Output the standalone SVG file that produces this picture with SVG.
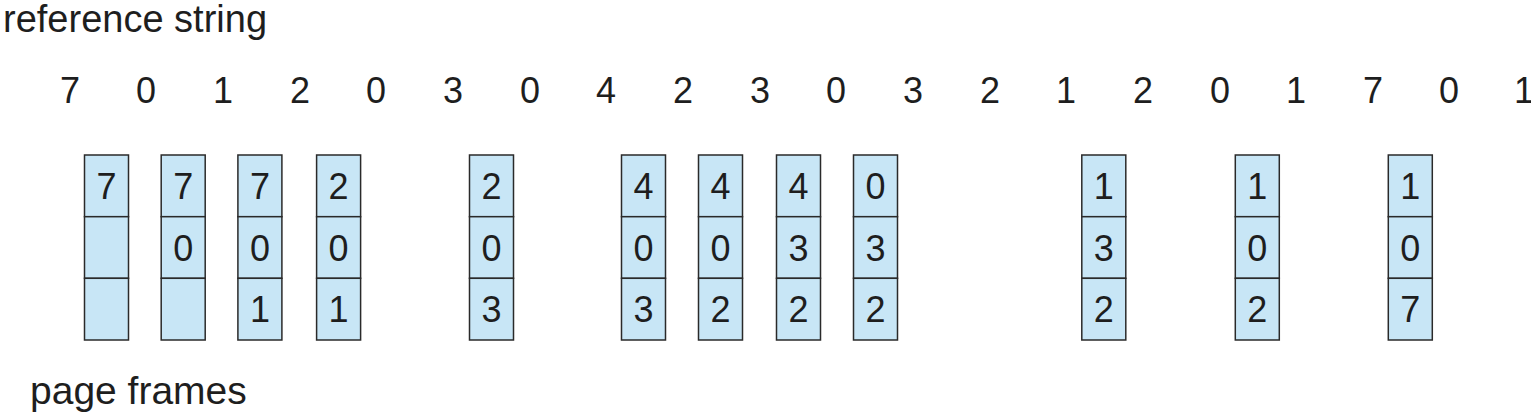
<svg xmlns="http://www.w3.org/2000/svg" width="1531" height="417" viewBox="0 0 1531 417">
<style>
text{font-family:"Liberation Sans",Arial,sans-serif;fill:#1e1e1e}
.lbl{font-size:38px}
.ref{font-size:36px;text-anchor:middle}
.d{font-size:36px;text-anchor:middle}
.cell{fill:#c8e6f6;stroke:#2a2a2a;stroke-width:1.5}
</style>
<rect width="1531" height="417" fill="#ffffff"/>
<text class="lbl" x="3" y="32">reference string</text>
<g id="refstring">
<text class="ref" x="70" y="103">7</text>
<text class="ref" x="146" y="103">0</text>
<text class="ref" x="223" y="103">1</text>
<text class="ref" x="300" y="103">2</text>
<text class="ref" x="376" y="103">0</text>
<text class="ref" x="453" y="103">3</text>
<text class="ref" x="530" y="103">0</text>
<text class="ref" x="606" y="103">4</text>
<text class="ref" x="683" y="103">2</text>
<text class="ref" x="760" y="103">3</text>
<text class="ref" x="836" y="103">0</text>
<text class="ref" x="913" y="103">3</text>
<text class="ref" x="990" y="103">2</text>
<text class="ref" x="1066" y="103">1</text>
<text class="ref" x="1143" y="103">2</text>
<text class="ref" x="1220" y="103">0</text>
<text class="ref" x="1296" y="103">1</text>
<text class="ref" x="1373" y="103">7</text>
<text class="ref" x="1449" y="103">0</text>
<text class="ref" x="1524" y="103">1</text>
</g>
<defs>
<g id="frame">
<rect class="cell" x="0" y="155" width="44" height="61.7"/>
<rect class="cell" x="0" y="216.7" width="44" height="61.6"/>
<rect class="cell" x="0" y="278.3" width="44" height="61.7"/>
</g>
</defs>
<g id="f1" transform="translate(84.5,0)"><use href="#frame"/><text class="d" x="22" y="199">7</text></g>
<g id="f2" transform="translate(161.2,0)"><use href="#frame"/><text class="d" x="22" y="199">7</text><text class="d" x="22" y="260.5">0</text></g>
<g id="f3" transform="translate(237.9,0)"><use href="#frame"/><text class="d" x="22" y="199">7</text><text class="d" x="22" y="260.5">0</text><text class="d" x="22" y="322">1</text></g>
<g id="f4" transform="translate(316.6,0)"><use href="#frame"/><text class="d" x="22" y="199">2</text><text class="d" x="22" y="260.5">0</text><text class="d" x="22" y="322">1</text></g>
<g id="f5" transform="translate(469.5,0)"><use href="#frame"/><text class="d" x="22" y="199">2</text><text class="d" x="22" y="260.5">0</text><text class="d" x="22" y="322">3</text></g>
<g id="f6" transform="translate(621.5,0)"><use href="#frame"/><text class="d" x="22" y="199">4</text><text class="d" x="22" y="260.5">0</text><text class="d" x="22" y="322">3</text></g>
<g id="f7" transform="translate(698.5,0)"><use href="#frame"/><text class="d" x="22" y="199">4</text><text class="d" x="22" y="260.5">0</text><text class="d" x="22" y="322">2</text></g>
<g id="f8" transform="translate(776.5,0)"><use href="#frame"/><text class="d" x="22" y="199">4</text><text class="d" x="22" y="260.5">3</text><text class="d" x="22" y="322">2</text></g>
<g id="f9" transform="translate(853.5,0)"><use href="#frame"/><text class="d" x="22" y="199">0</text><text class="d" x="22" y="260.5">3</text><text class="d" x="22" y="322">2</text></g>
<g id="f10" transform="translate(1081.8,0)"><use href="#frame"/><text class="d" x="22" y="199">1</text><text class="d" x="22" y="260.5">3</text><text class="d" x="22" y="322">2</text></g>
<g id="f11" transform="translate(1235.3,0)"><use href="#frame"/><text class="d" x="22" y="199">1</text><text class="d" x="22" y="260.5">0</text><text class="d" x="22" y="322">2</text></g>
<g id="f12" transform="translate(1388.3,0)"><use href="#frame"/><text class="d" x="22" y="199">1</text><text class="d" x="22" y="260.5">0</text><text class="d" x="22" y="322">7</text></g>
<g id="connectors"></g>
<text class="lbl" x="30" y="404" style="font-size:39px">page frames</text>
</svg>
